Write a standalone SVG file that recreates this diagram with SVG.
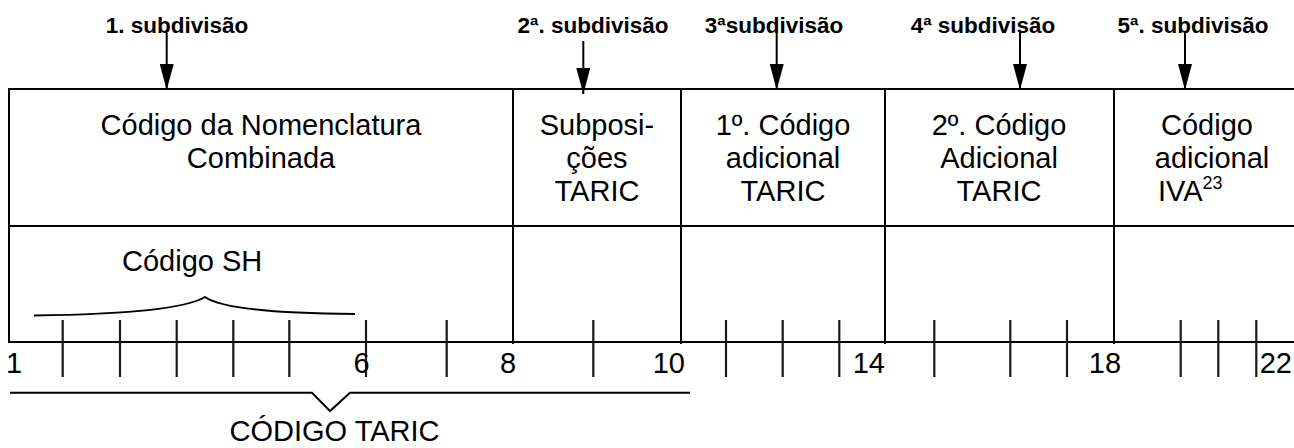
<svg xmlns="http://www.w3.org/2000/svg" width="1294" height="448" viewBox="0 0 1294 448">
<defs>
<style>
.ln{stroke:#000;stroke-width:2;fill:none}
.tk{stroke:#1a1a1a;stroke-width:2.2;fill:none}
.t{font-family:"Liberation Sans",Arial,sans-serif;font-size:29px;fill:#000}
.b{font-family:"Liberation Sans",Arial,sans-serif;font-size:22.5px;font-weight:bold;fill:#000}
.m{text-anchor:middle}
</style>
<marker id="ah" viewBox="0 0 26 14" refX="26" refY="7" markerWidth="26" markerHeight="14" markerUnits="userSpaceOnUse" orient="auto">
<path d="M0,0 L26,7 L0,14 Z" fill="#000"/>
</marker>
</defs>
<rect width="1294" height="448" fill="#fff"/>
<g id="table">
<path class="ln" d="M9,89 H1294 M9,226 H1294 M9,342 H1294 M9,88 V343 M513,89 V344 M681,89 V344 M885,89 V344 M1114,89 V344"/>
</g>
<g id="ticks">
<path class="tk" d="M62.7,320 V377 M120,320 V377 M176.7,320 V377 M233.3,320 V377 M289.3,320 V377 M366,320 V377 M446.7,320 V377 M593.3,320 V377 M726,320 V377 M782.7,320 V377 M839.3,320 V377 M934.3,320 V377 M1010.3,320 V377 M1067,320 V377 M1180.7,320 V377 M1218.3,320 V377 M1256.3,320 V377"/>
</g>
<g id="labels-top">
<text class="b m" x="177" y="33">1. subdivisão</text>
<text class="b m" x="593" y="33">2ª. subdivisão</text>
<text class="b m" x="774" y="33">3ªsubdivisão</text>
<text class="b m" x="983" y="33">4ª subdivisão</text>
<text class="b m" x="1193" y="33">5ª. subdivisão</text>
</g>
<g id="connectors">
<line class="ln" x1="166.7" y1="33" x2="166.7" y2="90" marker-end="url(#ah)" stroke-width="2.5"/>
<line class="ln" x1="583.3" y1="41" x2="583.3" y2="94" marker-end="url(#ah)" stroke-width="2.5"/>
<line class="ln" x1="776.7" y1="33" x2="776.7" y2="90" marker-end="url(#ah)" stroke-width="2.5"/>
<line class="ln" x1="1020" y1="30" x2="1020" y2="90" marker-end="url(#ah)" stroke-width="2.5"/>
<line class="ln" x1="1185" y1="33" x2="1185" y2="90" marker-end="url(#ah)" stroke-width="2.5"/>
</g>
<g id="cell-nc">
<text class="t m" x="261" y="135">Código da Nomenclatura</text>
<text class="t m" x="261" y="168">Combinada</text>
</g>
<g id="cell-subpos">
<text class="t m" x="597" y="135">Subposi-</text>
<text class="t m" x="597" y="168">ções</text>
<text class="t m" x="597" y="201">TARIC</text>
</g>
<g id="cell-ad1">
<text class="t m" x="783" y="135">1º. Código</text>
<text class="t m" x="783" y="168">adicional</text>
<text class="t m" x="783" y="201">TARIC</text>
</g>
<g id="cell-ad2">
<text class="t m" x="999" y="135">2º. Código</text>
<text class="t m" x="999" y="168">Adicional</text>
<text class="t m" x="999" y="201">TARIC</text>
</g>
<g id="cell-iva">
<text class="t m" x="1207" y="135">Código</text>
<text class="t m" x="1212" y="168">adicional</text>
<text class="t" x="1158" y="201">IVA<tspan font-size="18" dy="-12">23</tspan></text>
</g>
<g id="sh">
<text class="t" x="122" y="271">Código SH</text>
<path class="ln" d="M34,315.5 C120,314.5 185,309 205,297 C222,309 285,313.5 355,314"/>
</g>
<g id="numbers">
<text class="t" x="6" y="373">1</text>
<text class="t m" x="361.5" y="373">6</text>
<text class="t m" x="508" y="373">8</text>
<text class="t" x="685" y="373" text-anchor="end">10</text>
<text class="t" x="885" y="373" text-anchor="end">14</text>
<text class="t m" x="1105" y="373">18</text>
<text class="t" x="1292" y="373" text-anchor="end">22</text>
</g>
<g id="taric">
<polyline class="ln" stroke="#222" points="10,392.7 312,392.7 330,411 350,392.7 690,392.7"/>
<text class="t m" x="334.5" y="441" font-size="33">CÓDIGO TARIC</text>
</g>
</svg>
